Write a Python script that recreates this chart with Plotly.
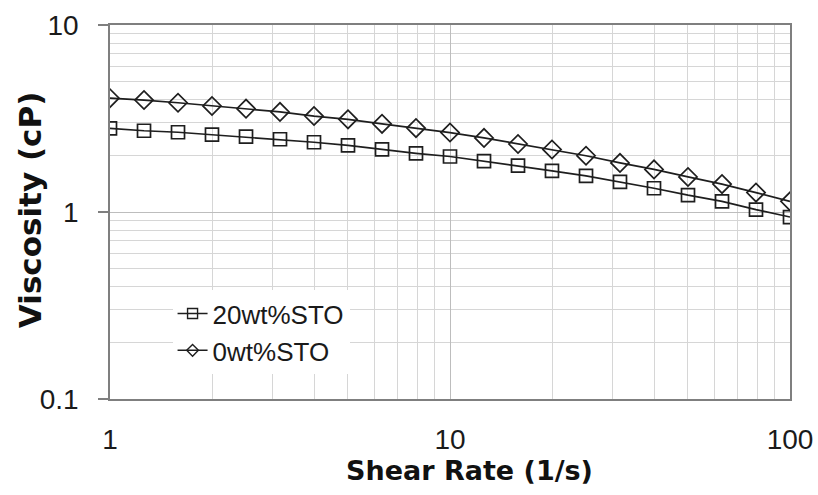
import plotly.graph_objects as go

# Data
shear_rate = [1, 1.259, 1.585, 1.995, 2.512, 3.162, 3.981, 5.012, 6.31, 7.943,
              10, 12.59, 15.85, 19.95, 25.12, 31.62, 39.81, 50.12, 63.1, 79.43, 100]
visc_20wt = [2.80, 2.72, 2.67, 2.59, 2.53, 2.45, 2.36, 2.27, 2.16, 2.06,
             1.98, 1.87, 1.77, 1.66, 1.56, 1.45, 1.34, 1.23, 1.14, 1.03, 0.94]
visc_0wt = [4.06, 3.97, 3.84, 3.69, 3.57, 3.43, 3.26, 3.13, 2.96, 2.81,
            2.66, 2.49, 2.31, 2.16, 2.00, 1.83, 1.69, 1.54, 1.41, 1.27, 1.14]

series_names = ["20wt%STO", "0wt%STO"]
x_ticks = [1, 10, 100]
x_ticktext = ["1", "10", "100"]
y_ticks = [0.1, 1, 10]
y_ticktext = ["0.1", "1", "10"]
x_minor = [m * d for d in (1, 10) for m in range(2, 10)]
y_minor = [m * d for d in (0.1, 1) for m in range(2, 10)]
x_title = "Shear Rate (1/s)"
y_title = "Viscosity (cP)"

FONT = "Liberation Sans, Arial, sans-serif"
TITLE_FONT = "DejaVu Sans, Liberation Sans, sans-serif"
LINE = "#1e1e1e"
symbols = ["square-open", "diamond-open"]
plot_sizes = [13, 14]
legend_sizes = [10, 9]

fig = go.Figure()
for name, vals, sym, sz in zip(series_names, [visc_20wt, visc_0wt], symbols, plot_sizes):
    fig.add_trace(go.Scatter(
        x=shear_rate, y=vals, name=name, mode="lines+markers", showlegend=False,
        line=dict(color=LINE, width=1.7),
        marker=dict(symbol=sym, size=sz, color=LINE, line=dict(width=1.7, color=LINE)),
    ))

# legend-only entries (smaller legend symbols, as in the reference)
for name, sym, sz in zip(series_names, symbols, legend_sizes):
    fig.add_trace(go.Scatter(
        x=[None], y=[None], name=name, mode="lines+markers", showlegend=True,
        line=dict(color=LINE, width=1.5),
        marker=dict(symbol=sym, size=sz, color=LINE, line=dict(width=1.4, color=LINE)),
    ))

fig.update_layout(
    width=818, height=495,
    margin=dict(l=110, r=28, t=25, b=96, autoexpand=False),
    paper_bgcolor="white", plot_bgcolor="white",
    font=dict(family=FONT, color="#1a1a1a"),
    showlegend=True,
    legend=dict(
        x=0.092, y=0.291, xanchor="left", yanchor="top",
        bgcolor="white", borderwidth=0,
        font=dict(size=26, family=FONT, color="#1a1a1a"),
        tracegroupgap=0,
    ),
    annotations=[
        dict(text="<b>" + x_title + "</b>", xref="paper", yref="paper",
             x=0.528, y=-0.19, xanchor="center", yanchor="middle", showarrow=False,
             font=dict(size=27, family=TITLE_FONT, color="#111111")),
        dict(text="<b>" + y_title + "</b>", xref="paper", yref="paper",
             x=-0.1176, y=0.505, xanchor="center", yanchor="middle", showarrow=False,
             textangle=-90,
             font=dict(size=31, family=TITLE_FONT, color="#111111")),
    ],
)

fig.update_xaxes(
    type="log", range=[0, 2],
    tickmode="array", tickvals=x_ticks, ticktext=x_ticktext,
    tickfont=dict(size=28, family=FONT, color="#1a1a1a"),
    ticks="", ticklabelstandoff=15,
    showgrid=True, gridcolor="#bdbdbd", gridwidth=1,
    minor=dict(tickmode="array", tickvals=x_minor, showgrid=True,
               gridcolor="#d6d6d6", gridwidth=1, ticks=""),
    showline=True, linecolor="#7f7f7f", linewidth=1.5, mirror=True,
    zeroline=False,
    automargin=False,
)
fig.update_yaxes(
    type="log", range=[-1, 1],
    tickmode="array", tickvals=y_ticks, ticktext=y_ticktext,
    tickfont=dict(size=28, family=FONT, color="#1a1a1a"),
    ticks="outside", ticklen=10, tickcolor="#7f7f7f", tickwidth=1.5,
    ticklabelstandoff=14,
    showgrid=True, gridcolor="#bdbdbd", gridwidth=1,
    minor=dict(tickmode="array", tickvals=y_minor, showgrid=True,
               gridcolor="#d6d6d6", gridwidth=1, ticks=""),
    showline=True, linecolor="#7f7f7f", linewidth=1.5, mirror=True,
    zeroline=False,
    automargin=False,
)

fig.write_html("out.html")
